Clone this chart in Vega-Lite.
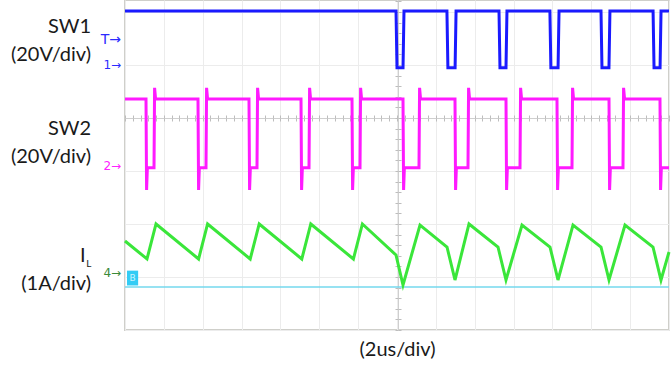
{
  "$schema": "https://vega.github.io/schema/vega-lite/v6.json",
  "width": 544,
  "height": 330,
  "autosize": {"type": "none"},
  "padding": {"left": 125, "top": 0, "right": 3, "bottom": 37},
  "background": "white",
  "config": {
    "view": {"stroke": "#cfcfca", "strokeWidth": 2},
    "font": "Lato"
  },
  "datasets": {
    "sw1": [
      {"t": 0, "v": 6.02}, {"t": 13.95, "v": 6.02}, {"t": 14.0, "v": 4.95}, {"t": 14.31, "v": 4.95}, {"t": 14.36, "v": 6.02},
      {"t": 16.57, "v": 6.02}, {"t": 16.62, "v": 4.95}, {"t": 16.99, "v": 4.95}, {"t": 17.04, "v": 6.02},
      {"t": 19.25, "v": 6.02}, {"t": 19.3, "v": 4.95}, {"t": 19.61, "v": 4.95}, {"t": 19.66, "v": 6.02},
      {"t": 21.87, "v": 6.02}, {"t": 21.92, "v": 4.95}, {"t": 22.29, "v": 4.95}, {"t": 22.34, "v": 6.02},
      {"t": 24.5, "v": 6.02}, {"t": 24.55, "v": 4.95}, {"t": 24.91, "v": 4.95}, {"t": 24.96, "v": 6.02},
      {"t": 27.18, "v": 6.02}, {"t": 27.23, "v": 4.95}, {"t": 27.54, "v": 4.95}, {"t": 27.59, "v": 6.02},
      {"t": 28, "v": 6.02}
    ],
    "sw2": [
      {"t": 0, "v": 4.36},
      {"t": 1.081, "v": 4.36}, {"t": 1.111, "v": 2.64}, {"t": 1.151, "v": 3.06}, {"t": 1.493, "v": 3.06}, {"t": 1.523, "v": 4.57}, {"t": 1.573, "v": 4.36},
      {"t": 3.757, "v": 4.36}, {"t": 3.787, "v": 2.64}, {"t": 3.827, "v": 3.06}, {"t": 4.169, "v": 3.06}, {"t": 4.199, "v": 4.57}, {"t": 4.249, "v": 4.36},
      {"t": 6.382, "v": 4.36}, {"t": 6.412, "v": 2.64}, {"t": 6.452, "v": 3.06}, {"t": 6.794, "v": 3.06}, {"t": 6.824, "v": 4.57}, {"t": 6.874, "v": 4.36},
      {"t": 9.059, "v": 4.36}, {"t": 9.089, "v": 2.64}, {"t": 9.129, "v": 3.06}, {"t": 9.471, "v": 3.06}, {"t": 9.501, "v": 4.57}, {"t": 9.551, "v": 4.36},
      {"t": 11.684, "v": 4.36}, {"t": 11.714, "v": 2.64}, {"t": 11.754, "v": 3.06}, {"t": 12.096, "v": 3.06}, {"t": 12.126, "v": 4.57}, {"t": 12.176, "v": 4.36},
      {"t": 14.309, "v": 4.36}, {"t": 14.339, "v": 2.64}, {"t": 14.379, "v": 3.06}, {"t": 15.132, "v": 3.06}, {"t": 15.162, "v": 4.57}, {"t": 15.212, "v": 4.36},
      {"t": 16.985, "v": 4.36}, {"t": 17.015, "v": 2.64}, {"t": 17.055, "v": 3.06}, {"t": 17.654, "v": 3.06}, {"t": 17.684, "v": 4.57}, {"t": 17.734, "v": 4.36},
      {"t": 19.61, "v": 4.36}, {"t": 19.64, "v": 2.64}, {"t": 19.68, "v": 3.06}, {"t": 20.331, "v": 3.06}, {"t": 20.361, "v": 4.57}, {"t": 20.411, "v": 4.36},
      {"t": 22.235, "v": 4.36}, {"t": 22.265, "v": 2.64}, {"t": 22.305, "v": 3.06}, {"t": 23.007, "v": 3.06}, {"t": 23.037, "v": 4.57}, {"t": 23.087, "v": 4.36},
      {"t": 24.912, "v": 4.36}, {"t": 24.942, "v": 2.64}, {"t": 24.982, "v": 3.06}, {"t": 25.632, "v": 3.06}, {"t": 25.662, "v": 4.57}, {"t": 25.712, "v": 4.36},
      {"t": 27.536, "v": 4.36}, {"t": 27.566, "v": 2.64}, {"t": 27.606, "v": 3.06}, {"t": 28, "v": 3.06}
    ],
    "il": [
      {"t": 0, "v": 1.679}, {"t": 1.132, "v": 1.34}, {"t": 1.596, "v": 2.0}, {"t": 3.788, "v": 1.34}, {"t": 4.251, "v": 2.0},
      {"t": 6.444, "v": 1.34}, {"t": 6.907, "v": 2.0}, {"t": 9.1, "v": 1.34}, {"t": 9.563, "v": 2.0}, {"t": 11.756, "v": 1.34},
      {"t": 12.219, "v": 2.0}, {"t": 13.948, "v": 1.415}, {"t": 14.309, "v": 0.849}, {"t": 15.184, "v": 1.981}, {"t": 16.574, "v": 1.566},
      {"t": 16.985, "v": 0.943}, {"t": 17.706, "v": 2.0}, {"t": 19.199, "v": 1.566}, {"t": 19.61, "v": 0.943}, {"t": 20.434, "v": 1.981},
      {"t": 21.875, "v": 1.566}, {"t": 22.287, "v": 0.943}, {"t": 23.059, "v": 1.981}, {"t": 24.5, "v": 1.566}, {"t": 24.912, "v": 0.943},
      {"t": 25.735, "v": 1.981}, {"t": 27.176, "v": 1.566}, {"t": 27.588, "v": 0.943}, {"t": 28.0, "v": 1.472}
    ],
    "labels": [
      {"text": "SW1", "t": -1.75, "v": 5.72},
      {"text": "(20V/div)", "t": -1.75, "v": 5.19},
      {"text": "SW2", "t": -1.75, "v": 3.79},
      {"text": "(20V/div)", "t": -1.75, "v": 3.27},
      {"text": "(1A/div)", "t": -1.75, "v": 0.86}
    ],
    "ilabel": [{"text": "I", "t": -2.03, "v": 1.4}],
    "sub": [{"text": "L", "t": -2.0, "v": 1.245}],
    "tmark": [{"text": "T→", "ch": "1", "t": -0.2, "v": 5.47}],
    "markers": [
      {"text": "1→", "ch": "1", "t": -0.2, "v": 5.0},
      {"text": "2→", "ch": "2", "t": -0.2, "v": 3.09},
      {"text": "4→", "ch": "4", "t": -0.2, "v": 1.075}
    ],
    "bbox": [{"text": "B", "t": 0.39, "v": 0.98}],
    "ref": [{"level": 0.811}]
  },
  "resolve": {"axis": {"x": "independent", "y": "independent"}},
  "layer": [
    {
      "data": {"name": "sw1"},
      "mark": {"type": "line", "color": "#1a1aff", "strokeWidth": 3},
      "encoding": {
        "x": {"field": "t", "type": "quantitative",
              "scale": {"domain": [0, 28], "nice": false, "zero": false},
              "axis": {"orient": "bottom", "grid": true, "gridColor": "#ececec", "gridWidth": 1,
                       "values": [0, 2, 4, 6, 8, 10, 12, 14, 16, 18, 20, 22, 24, 26, 28],
                       "labels": false, "ticks": false, "domain": false,
                       "title": "(2us/div)", "titleFont": "Lato", "titleFontSize": 20, "titleFontWeight": "normal",
                       "titleColor": "#1a1a1a", "titlePadding": 9}},
        "y": {"field": "v", "type": "quantitative",
              "scale": {"domain": [0, 6.226], "nice": false, "zero": false},
              "axis": {"orient": "left", "grid": true, "gridColor": "#ececec", "gridWidth": 1,
                       "values": [0, 1, 2, 3, 4, 5, 6],
                       "labels": false, "ticks": false, "domain": false, "title": null}},
        "order": {"field": "t", "type": "quantitative"}
      }
    },
    {
      "data": {"name": "ref"},
      "mark": {"type": "rule", "color": "#74d8ee", "strokeWidth": 1.3},
      "encoding": {
        "y": {"field": "level", "type": "quantitative",
              "scale": {"domain": [0, 6.226], "nice": false, "zero": false}, "axis": null}
      }
    },
    {
      "data": {"name": "sw2"},
      "mark": {"type": "line", "color": "#ff1aff", "strokeWidth": 3},
      "encoding": {
        "x": {"field": "t", "type": "quantitative",
              "scale": {"domain": [0, 28], "nice": false, "zero": false},
              "axis": {"orient": "bottom", "offset": -212, "grid": false,
                       "values": [0,0.4,0.8,1.2,1.6,2,2.4,2.8,3.2,3.6,4,4.4,4.8,5.2,5.6,6,6.4,6.8,7.2,7.6,8,8.4,8.8,9.2,9.6,10,10.4,10.8,11.2,11.6,12,12.4,12.8,13.2,13.6,14,14.4,14.8,15.2,15.6,16,16.4,16.8,17.2,17.6,18,18.4,18.8,19.2,19.6,20,20.4,20.8,21.2,21.6,22,22.4,22.8,23.2,23.6,24,24.4,24.8,25.2,25.6,26,26.4,26.8,27.2,27.6,28],
                       "labels": false, "ticks": true, "tickSize": 3, "tickColor": "#bdbdbd", "tickWidth": 1,
                       "domain": true, "domainColor": "#cfcfcf", "domainWidth": 1, "title": null}},
        "y": {"field": "v", "type": "quantitative",
              "scale": {"domain": [0, 6.226], "nice": false, "zero": false},
              "axis": {"orient": "left", "offset": -273, "grid": false,
                       "values": [0,0.2,0.4,0.6,0.8,1,1.2,1.4,1.6,1.8,2,2.2,2.4,2.6,2.8,3,3.2,3.4,3.6,3.8,4,4.2,4.4,4.6,4.8,5,5.2,5.4,5.6,5.8,6,6.2],
                       "labels": false, "ticks": true, "tickSize": 3, "tickColor": "#bdbdbd", "tickWidth": 1,
                       "domain": true, "domainColor": "#cfcfcf", "domainWidth": 1, "title": null}},
        "order": {"field": "t", "type": "quantitative"}
      }
    },
    {
      "data": {"name": "il"},
      "mark": {"type": "line", "color": "#3ae63a", "strokeWidth": 3},
      "encoding": {
        "x": {"field": "t", "type": "quantitative",
              "scale": {"domain": [0, 28], "nice": false, "zero": false},
              "axis": {"orient": "top", "offset": -118, "grid": false,
                       "values": [0,0.4,0.8,1.2,1.6,2,2.4,2.8,3.2,3.6,4,4.4,4.8,5.2,5.6,6,6.4,6.8,7.2,7.6,8,8.4,8.8,9.2,9.6,10,10.4,10.8,11.2,11.6,12,12.4,12.8,13.2,13.6,14,14.4,14.8,15.2,15.6,16,16.4,16.8,17.2,17.6,18,18.4,18.8,19.2,19.6,20,20.4,20.8,21.2,21.6,22,22.4,22.8,23.2,23.6,24,24.4,24.8,25.2,25.6,26,26.4,26.8,27.2,27.6,28],
                       "labels": false, "ticks": true, "tickSize": 3, "tickColor": "#bdbdbd", "tickWidth": 1,
                       "domain": false, "title": null}},
        "y": {"field": "v", "type": "quantitative",
              "scale": {"domain": [0, 6.226], "nice": false, "zero": false},
              "axis": {"orient": "right", "offset": -271, "grid": false,
                       "values": [0,0.2,0.4,0.6,0.8,1,1.2,1.4,1.6,1.8,2,2.2,2.4,2.6,2.8,3,3.2,3.4,3.6,3.8,4,4.2,4.4,4.6,4.8,5,5.2,5.4,5.6,5.8,6,6.2],
                       "labels": false, "ticks": true, "tickSize": 3, "tickColor": "#bdbdbd", "tickWidth": 1,
                       "domain": false, "title": null}},
        "order": {"field": "t", "type": "quantitative"}
      }
    },
    {
      "data": {"name": "labels"},
      "mark": {"type": "text", "font": "Lato", "fontSize": 20, "align": "right", "baseline": "middle", "color": "#1a1a1a"},
      "encoding": {
        "x": {"field": "t", "type": "quantitative", "scale": {"domain": [0, 28], "nice": false, "zero": false}, "axis": null},
        "y": {"field": "v", "type": "quantitative", "scale": {"domain": [0, 6.226], "nice": false, "zero": false}, "axis": null},
        "text": {"field": "text"}
      }
    },
    {
      "data": {"name": "ilabel"},
      "mark": {"type": "text", "font": "Lato", "fontSize": 20, "align": "right", "baseline": "middle", "color": "#1a1a1a"},
      "encoding": {
        "x": {"field": "t", "type": "quantitative", "scale": {"domain": [0, 28], "nice": false, "zero": false}, "axis": null},
        "y": {"field": "v", "type": "quantitative", "scale": {"domain": [0, 6.226], "nice": false, "zero": false}, "axis": null},
        "text": {"field": "text"}
      }
    },
    {
      "data": {"name": "sub"},
      "mark": {"type": "text", "font": "Lato", "fontSize": 10, "align": "left", "baseline": "middle", "color": "#1a1a1a"},
      "encoding": {
        "x": {"field": "t", "type": "quantitative", "scale": {"domain": [0, 28], "nice": false, "zero": false}, "axis": null},
        "y": {"field": "v", "type": "quantitative", "scale": {"domain": [0, 6.226], "nice": false, "zero": false}, "axis": null},
        "text": {"field": "text"}
      }
    },
    {
      "data": {"name": "tmark"},
      "mark": {"type": "text", "font": "DejaVu Sans", "fontSize": 14, "align": "right", "baseline": "middle", "color": "#2b2bff"},
      "encoding": {
        "x": {"field": "t", "type": "quantitative", "scale": {"domain": [0, 28], "nice": false, "zero": false}, "axis": null},
        "y": {"field": "v", "type": "quantitative", "scale": {"domain": [0, 6.226], "nice": false, "zero": false}, "axis": null},
        "text": {"field": "text"}
      }
    },
    {
      "data": {"name": "markers"},
      "mark": {"type": "text", "font": "DejaVu Sans", "fontSize": 12, "align": "right", "baseline": "middle"},
      "encoding": {
        "x": {"field": "t", "type": "quantitative", "scale": {"domain": [0, 28], "nice": false, "zero": false}, "axis": null},
        "y": {"field": "v", "type": "quantitative", "scale": {"domain": [0, 6.226], "nice": false, "zero": false}, "axis": null},
        "text": {"field": "text"},
        "color": {"field": "ch", "type": "nominal", "legend": null,
                  "scale": {"domain": ["1", "2", "4"], "range": ["#2b2bff", "#ff22ff", "#3a8a3a"]}}
      }
    },
    {
      "data": {"name": "bbox"},
      "mark": {"type": "point", "shape": "M-0.75,-1L0.75,-1L0.75,1L-0.75,1Z", "filled": true, "color": "#33ccf5", "size": 220, "opacity": 1},
      "encoding": {
        "x": {"field": "t", "type": "quantitative", "scale": {"domain": [0, 28], "nice": false, "zero": false}, "axis": null},
        "y": {"field": "v", "type": "quantitative", "scale": {"domain": [0, 6.226], "nice": false, "zero": false}, "axis": null}
      }
    },
    {
      "data": {"name": "bbox"},
      "mark": {"type": "text", "font": "DejaVu Sans", "fontSize": 9, "align": "center", "baseline": "middle", "color": "#c8f4ff"},
      "encoding": {
        "x": {"field": "t", "type": "quantitative", "scale": {"domain": [0, 28], "nice": false, "zero": false}, "axis": null},
        "y": {"field": "v", "type": "quantitative", "scale": {"domain": [0, 6.226], "nice": false, "zero": false}, "axis": null},
        "text": {"field": "text"}
      }
    }
  ]
}
